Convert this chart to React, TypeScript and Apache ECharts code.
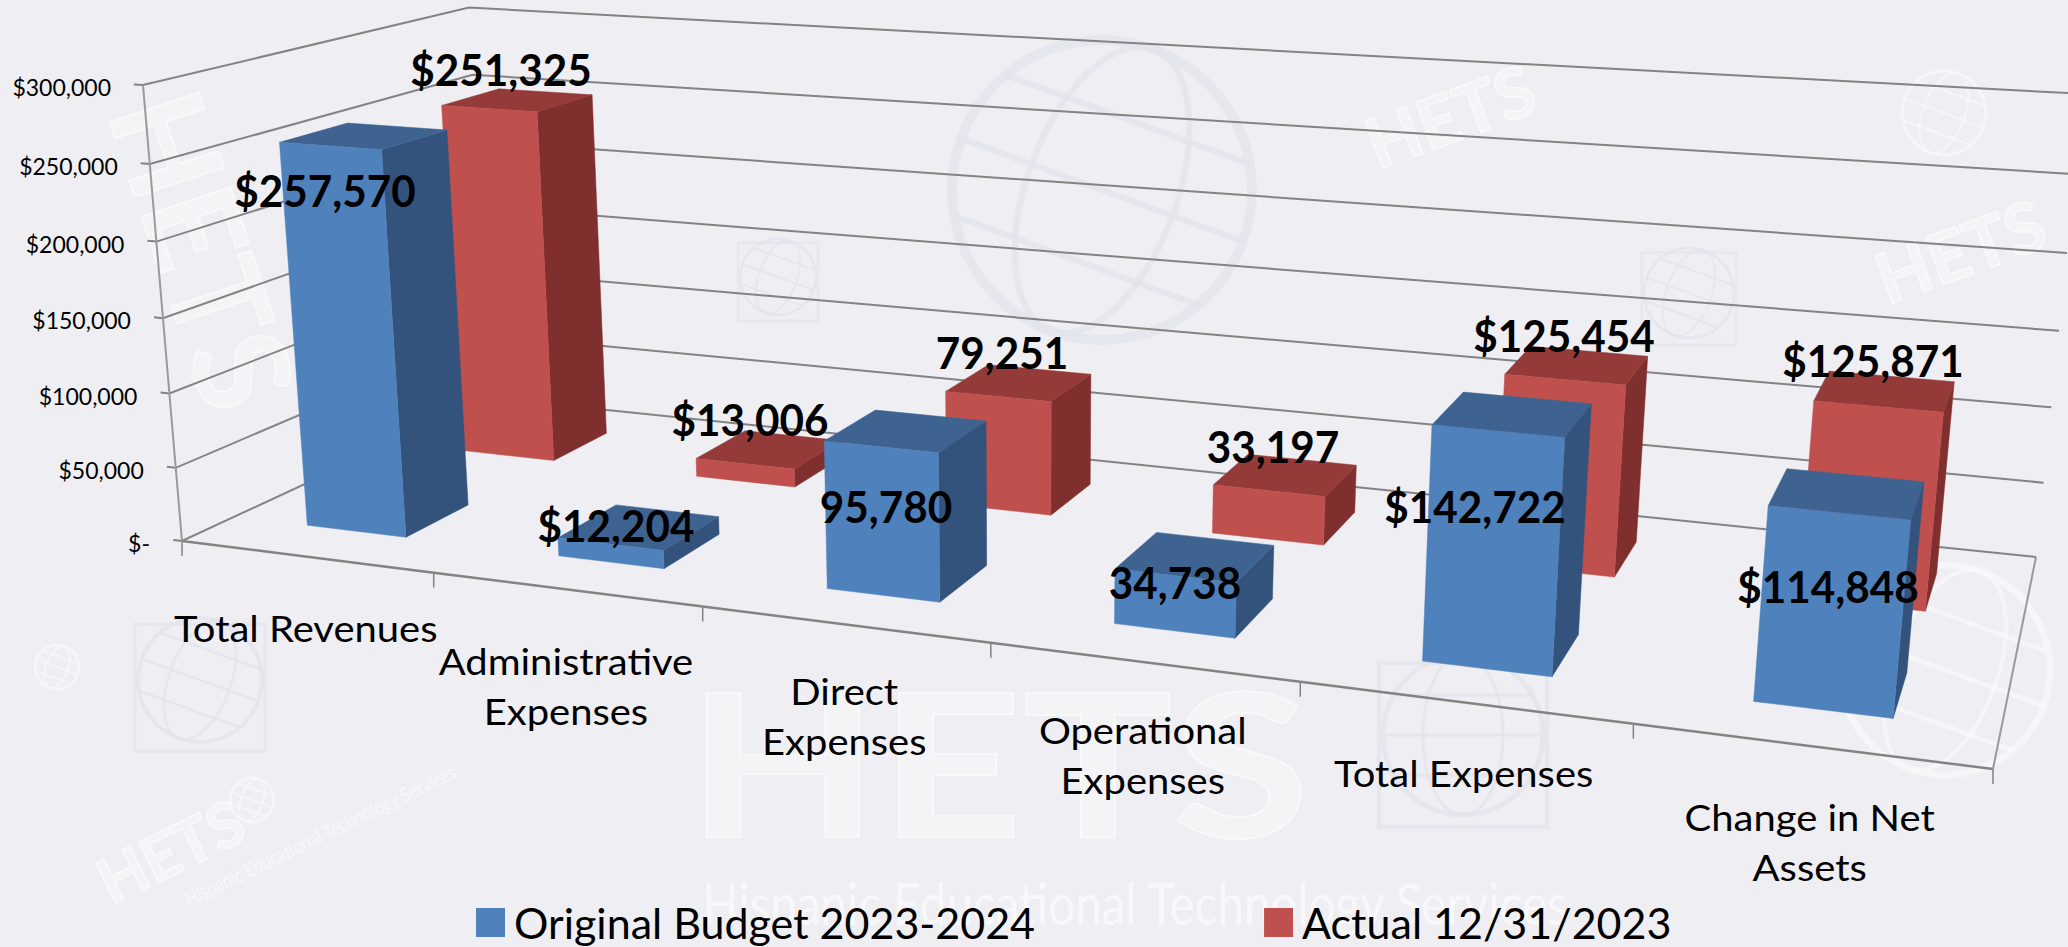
import React, { useEffect, useRef } from "react";
import * as echarts from "echarts";

const categories = ["Total Revenues", "Administrative\nExpenses", "Direct\nExpenses", "Operational\nExpenses", "Total Expenses", "Change in Net\nAssets"];
const budgetValues = [257570, 12204, 95780, 34738, 142722, 114848];
const actualValues = [251325, 13006, 79251, 33197, 125454, 125871];
const budgetLabels = ["$257,570", "$12,204", "95,780", "34,738", "$142,722", "$114,848"];
const actualLabels = ["$251,325", "$13,006", "79,251", "33,197", "$125,454", "$125,871"];
const valueTicks = [0, 50000, 100000, 150000, 200000, 250000, 300000];
const tickLabels = ["$-", "$50,000", "$100,000", "$150,000", "$200,000", "$250,000", "$300,000"];
const BUDGET_NAME = "Original Budget 2023-2024";
const ACTUAL_NAME = "Actual 12/31/2023";

// Layout only: the corners of the 3-D box as they appear on the page.
const W = 2068, H = 947;
const FRONT_LEFT = [182, 541], FRONT_LEFT_TOP = [143, 85], BACK_LEFT = [490, 398];
const BACK_RIGHT = [2036, 557], FRONT_RIGHT = [1993, 769];
const VERTICAL_SCALE = 0.956;
const budgetLabelAt = [[325, 190], [616, 525], [886, 506], [1175, 582], [1475, 506], [1828, 586]];
const actualLabelAt = [[501, 69], [750, 419], [1002, 352], [1273, 446], [1564, 335], [1873, 360]];
const categoryLabelNudge = [0, 0, -5, -3, -1, 0];

function buildProjection() {
  const [ax, ay] = FRONT_LEFT, [gx, gy] = FRONT_RIGHT, [cx, cy] = BACK_LEFT, [ex, ey] = BACK_RIGHT, [bx, by] = FRONT_LEFT_TOP;
  const a1 = gx - ex, b1 = cx - ex, r1 = ax - ex;
  const a2 = gy - ey, b2 = cy - ey, r2 = ay - ey;
  const det = a1 * b2 - a2 * b1;
  const alpha = (r1 * b2 - r2 * b1) / det;
  const beta = (a1 * r2 - a2 * r1) / det;
  const cu = [alpha * gx - ax, alpha * gy - ay, alpha - 1];
  const cv = [beta * cx - ax, beta * cy - ay, beta - 1];
  const cw = [VERTICAL_SCALE * bx - ax, VERTICAL_SCALE * by - ay, VERTICAL_SCALE - 1];
  return (u: number, v: number, w: number) => {
    const d = 1 + u * cu[2] + v * cv[2] + w * cw[2];
    return [(ax + u * cu[0] + v * cv[0] + w * cw[0]) / d, (ay + u * cu[1] + v * cv[1] + w * cw[1]) / d];
  };
}
const project = buildProjection();

const toUW = (api: any, params: any, cat: number, val: number) => {
  const p = api.coord([cat, val]);
  const cs = params.coordSys;
  return [(p[0] - cs.x) / cs.width, (cs.y + cs.height - p[1]) / cs.height];
};

const GRID_COLOR = "#838383";

function barSeries(name: string, values: number[], row: number, faces: string[]) {
  return {
    name,
    type: "custom",
    coordinateSystem: "cartesian2d",
    itemStyle: { color: faces[0] },
    encode: { x: 0, y: 1 },
    data: values.map((v, i) => [i, v]),
    z: row === 0 ? 4 : 3,
    renderItem: (params: any, api: any) => {
      const [uc, wt] = toUW(api, params, api.value(0), api.value(1));
      const du = api.size([1, 0])[0] / params.coordSys.width;
      const u0 = uc - du * 0.2, u1 = uc + du * 0.2;
      const v0 = (row + 0.3) / 2, v1 = (row + 0.7) / 2;
      const poly = (pts: number[][], fill: string) => ({
        type: "polygon",
        shape: { points: pts.map((q) => project(q[0], q[1], q[2])) },
        style: { fill, stroke: fill, lineWidth: 0.5 },
      });
      return {
        type: "group",
        children: [
          poly([[u1, v0, 0], [u1, v1, 0], [u1, v1, wt], [u1, v0, wt]], faces[1]),
          poly([[u0, v0, wt], [u1, v0, wt], [u1, v1, wt], [u0, v1, wt]], faces[2]),
          poly([[u0, v0, 0], [u1, v0, 0], [u1, v0, wt], [u0, v0, wt]], faces[0]),
        ],
      };
    },
  };
}

function labelSeries(id: string, texts: string[], at: number[][]) {
  return {
    id,
    type: "custom",
    coordinateSystem: "cartesian2d",
    encode: { x: 0, y: 1 },
    data: texts.map((_, i) => [i, 0]),
    z: 6,
    silent: true,
    renderItem: (_p: any, api: any) => {
      const i = api.value(0);
      return {
        type: "text",
        x: at[i][0],
        y: at[i][1],
        scaleX: 0.96,
        style: { text: texts[i], fill: "#000", font: "bold 44px Lato", align: "center", verticalAlign: "middle" },
      };
    },
  };
}

// Faint background artwork of the reference.
const LAV = "rgba(226,226,236,0.7)";
const PALE = "rgba(250,250,252,0.7)";
const logo = (x: number, y: number, size: number, rotation = 0) => ({
  type: "text",
  x,
  y,
  rotation,
  silent: true,
  z: 0,
  style: { text: "HETS", font: `bold ${size}px Lato`, fill: "rgba(250,250,252,0.5)", stroke: "rgba(255,255,255,0.7)", lineWidth: 1.5, align: "center", verticalAlign: "middle" },
});
const tagline = (x: number, y: number, size: number, rotation = 0) => ({
  type: "text",
  x,
  y,
  rotation,
  silent: true,
  z: 0,
  scaleX: 0.82,
  style: { text: "Hispanic Educational Technology Services", font: `${size}px Lato`, fill: "rgba(250,250,252,0.8)", align: "center", verticalAlign: "middle" },
});
const globe = (x: number, y: number, r: number, stroke: string, rotation = -0.35, book = false) => {
  const lw = Math.max(1.5, r / 30);
  const lat = (f: number) => ({ type: "line", shape: { x1: -r * Math.sqrt(1 - f * f), y1: f * r, x2: r * Math.sqrt(1 - f * f), y2: f * r }, style: { stroke, lineWidth: lw * 1.3 } });
  const children: any[] = [
    { type: "circle", shape: { cx: 0, cy: 0, r }, style: { fill: "none", stroke, lineWidth: lw * 2 } },
    { type: "ellipse", shape: { cx: 0, cy: 0, rx: r * 0.5, ry: r }, style: { fill: "none", stroke, lineWidth: lw * 1.3 } },
    lat(0), lat(-0.5), lat(0.5),
  ];
  if (book) children.push({ type: "rect", shape: { x: -r * 1.05, y: -r * 0.9, width: r * 2.1, height: r * 2.05 }, rotation: -rotation, style: { fill: "none", stroke, lineWidth: lw * 1.6 } });
  return { type: "group", x, y, rotation, silent: true, z: 0, children };
};

export default function App() {
  const ref = useRef<HTMLDivElement>(null);
  useEffect(() => {
    document.body.style.margin = "0";
    const chart = echarts.init(ref.current!, undefined, { renderer: "svg" });
    chart.setOption({
      animation: false,
      backgroundColor: "#EFEFF3",
      grid: { left: 0, right: 0, top: 0, bottom: 0, show: false },
      xAxis: { type: "category", data: categories, show: false },
      yAxis: { type: "value", min: 0, max: 300000, interval: 50000, show: false },
      legend: {
        data: [BUDGET_NAME, ACTUAL_NAME],
        left: 471,
        top: 896,
        itemWidth: 29,
        itemHeight: 29,
        itemGap: 229,
        icon: "rect",
        textStyle: { fontFamily: "Lato", fontSize: 43, color: "#000", padding: [0, 0, 0, 4] },
      },
      graphic: {
        elements: [
          { ...logo(998, 760, 200), scaleX: 1.25 },
          logo(205, 250, 130, -1.25),
          logo(170, 850, 62, 0.45),
          logo(1450, 115, 70, 0.35),
          logo(1960, 250, 70, 0.35),
          tagline(1135, 903, 58),
          tagline(320, 835, 20, 0.45),
          globe(1102, 190, 150, LAV),
          globe(200, 680, 62, LAV, -0.35, true),
          globe(1463, 735, 80, LAV, 0, true),
          globe(1945, 670, 105, "rgba(250,250,252,0.6)"),
          globe(778, 277, 38, LAV, -0.35, true),
          globe(1944, 113, 42, PALE),
          globe(1689, 293, 45, LAV, -0.35, true),
          globe(252, 800, 22, PALE),
          globe(57, 667, 22, PALE),
        ],
      },
      series: [
        {
          id: "walls",
          type: "custom",
          coordinateSystem: "cartesian2d",
          encode: { x: 0, y: 1 },
          silent: true,
          z: 1,
          data: valueTicks.map((t) => [0, t]),
          renderItem: (params: any, api: any) => {
            const [, w] = toUW(api, params, 0, api.value(1));
            const pts = [project(-0.006, 0, w), project(0, 0, w), project(0, 1, w), project(1, 1, w)];
            const i = valueTicks.indexOf(api.value(1));
            const p0 = project(0, 0, w);
            return {
              type: "group",
              children: [
                { type: "polyline", shape: { points: pts }, style: { fill: "none", stroke: GRID_COLOR, lineWidth: 2 } },
                { type: "text", x: p0[0] - 32, y: p0[1] + 2, style: { text: tickLabels[i], font: "23px Lato", fill: "#000", align: "right", verticalAlign: "middle" } },
              ],
            };
          },
        },
        {
          id: "floor",
          type: "custom",
          coordinateSystem: "cartesian2d",
          encode: { x: 0, y: 1 },
          silent: true,
          z: 2,
          data: categories.map((_, i) => [i, 0]),
          renderItem: (params: any, api: any) => {
            const i = api.value(0);
            const [uc] = toUW(api, params, i, 0);
            const du = api.size([1, 0])[0] / params.coordSys.width;
            const u0 = uc - du / 2, u1 = uc + du / 2;
            const a = project(u0, 0, 0), b = project(u1, 0, 0), m = project(uc, 0, 0);
            const children: any[] = [
              { type: "line", shape: { x1: a[0], y1: a[1], x2: b[0], y2: b[1] }, style: { stroke: GRID_COLOR, lineWidth: 2.5 } },
              { type: "line", shape: { x1: a[0], y1: a[1], x2: a[0], y2: a[1] + 15 }, style: { stroke: GRID_COLOR, lineWidth: 1.5 } },
              { type: "text", x: m[0], y: m[1] + 46 + categoryLabelNudge[i], scaleX: 1.08, style: { text: categories[i], font: "37px Lato", lineHeight: 50, fill: "#000", align: "center", verticalAlign: "top" } },
            ];
            if (i === categories.length - 1) {
              const e = project(1, 1, 0);
              children.push(
                { type: "line", shape: { x1: b[0], y1: b[1], x2: b[0], y2: b[1] + 15 }, style: { stroke: GRID_COLOR, lineWidth: 1.5 } },
                { type: "line", shape: { x1: b[0], y1: b[1], x2: e[0], y2: e[1] }, style: { stroke: "#9A9A9A", lineWidth: 2 } },
              );
            }
            if (i === 0) {
              const t = project(0, 0, 1);
              children.push({ type: "line", shape: { x1: a[0], y1: a[1], x2: t[0], y2: t[1] }, style: { stroke: "#9A9A9A", lineWidth: 2 } });
            }
            return { type: "group", children };
          },
        },
        barSeries(ACTUAL_NAME, actualValues, 1, ["#C0504D", "#7F2F2E", "#943A38"]),
        barSeries(BUDGET_NAME, budgetValues, 0, ["#4F81BD", "#33537C", "#3F6391"]),
        labelSeries("actual-labels", actualLabels, actualLabelAt),
        labelSeries("budget-labels", budgetLabels, budgetLabelAt),
      ],
    });
    return () => chart.dispose();
  }, []);
  return <div ref={ref} style={{ width: W, height: H }} />;
}
